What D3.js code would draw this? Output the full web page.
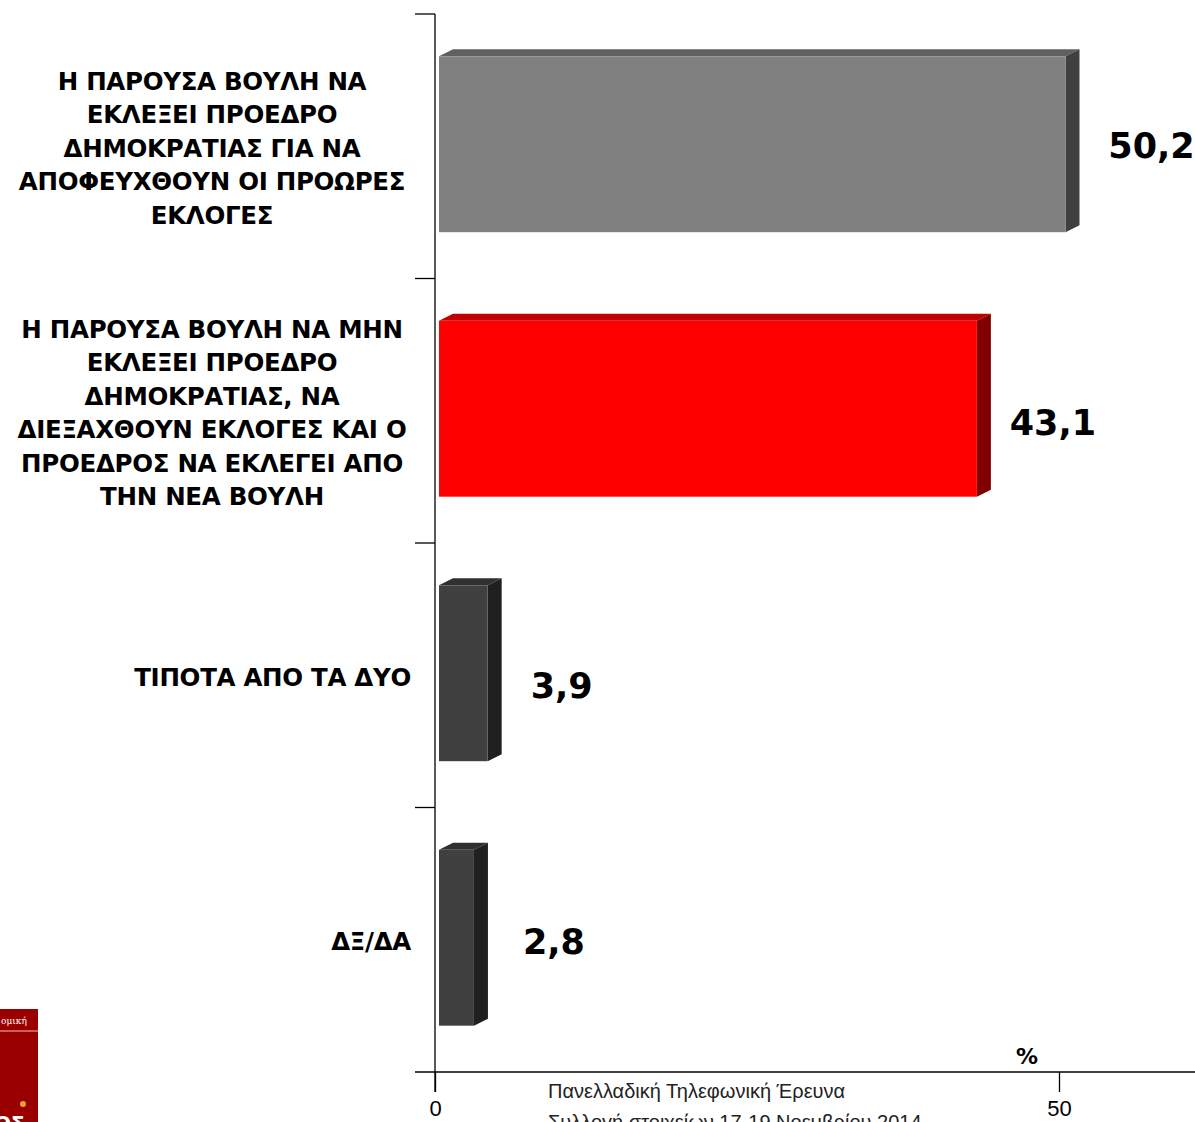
<!DOCTYPE html>
<html>
<head>
<meta charset="utf-8">
<script src="https://d3js.org/d3.v7.min.js"></script>
<style>
  html, body { margin: 0; padding: 0; background: #fff; }
  svg { display: block; }
</style>
</head>
<body>
<script>
// ---- data ----
const categories = [
  ["Η ΠΑΡΟΥΣΑ ΒΟΥΛΗ ΝΑ", "ΕΚΛΕΞΕΙ ΠΡΟΕΔΡΟ", "ΔΗΜΟΚΡΑΤΙΑΣ ΓΙΑ ΝΑ", "ΑΠΟΦΕΥΧΘΟΥΝ ΟΙ ΠΡΟΩΡΕΣ", "ΕΚΛΟΓΕΣ"],
  ["Η ΠΑΡΟΥΣΑ ΒΟΥΛΗ ΝΑ ΜΗΝ", "ΕΚΛΕΞΕΙ ΠΡΟΕΔΡΟ", "ΔΗΜΟΚΡΑΤΙΑΣ, ΝΑ", "ΔΙΕΞΑΧΘΟΥΝ ΕΚΛΟΓΕΣ ΚΑΙ Ο", "ΠΡΟΕΔΡΟΣ ΝΑ ΕΚΛΕΓΕΙ ΑΠΟ", "ΤΗΝ ΝΕΑ ΒΟΥΛΗ"],
  ["ΤΙΠΟΤΑ ΑΠΟ ΤΑ ΔΥΟ"],
  ["ΔΞ/ΔΑ"]
];
const values = [50.2, 43.1, 3.9, 2.8];
const valueLabels = ["50,2", "43,1", "3,9", "2,8"];
const frontColors = ["#808080", "#FF0000", "#404040", "#404040"];
const topColors   = ["#606060", "#C00000", "#303030", "#303030"];
const sideColors  = ["#404040", "#800000", "#202020", "#202020"];
const xTicks = [0, 50];
const xTickLabels = ["0", "50"];
const unitLabel = "%";
const footLines = ["Πανελλαδική  Τηλεφωνική Έρευνα", "Συλλογή στοιχείων 17-19 Νοεμβρίου 2014"];

// ---- layout ----
const W = 1195, H = 1122;
const svg = d3.select("body").append("svg").attr("width", W).attr("height", H);

const x = d3.scaleLinear().domain([0, 50]).range([435, 1059]);
const y = d3.scaleBand().domain(d3.range(categories.length)).range([14, 1072])
  .paddingInner(0.335).paddingOuter(0.1675);
const DX = 14, DY = -7, OFF = 4, SHIFT = -2;

// bars (pseudo 3D)
const g = svg.append("g");
values.forEach((v, i) => {
  const x0 = x(0) + OFF, x1 = x(v) + OFF;
  const y0 = y(i) + SHIFT, y1 = y0 + y.bandwidth();
  g.append("path")
    .attr("d", `M${x0},${y0}L${x0 + DX},${y0 + DY}L${x1 + DX},${y0 + DY}L${x1},${y0}Z`)
    .attr("fill", topColors[i]);
  g.append("path")
    .attr("d", `M${x1},${y0}L${x1 + DX},${y0 + DY}L${x1 + DX},${y1 + DY}L${x1},${y1}Z`)
    .attr("fill", sideColors[i]);
  g.append("rect")
    .attr("x", x0).attr("y", y0)
    .attr("width", x1 - x0).attr("height", y1 - y0)
    .attr("fill", frontColors[i]);
});

// value labels
const labelDx = [86, 76, 74, 80];
const labelDy = [0, 12, 11, 2];
values.forEach((v, i) => {
  svg.append("text")
    .attr("x", x(v) + OFF + labelDx[i])
    .attr("y", y(i) + y.bandwidth() / 2 + labelDy[i])
    .attr("text-anchor", "middle")
    .attr("dominant-baseline", "central")
    .attr("font-family", "'DejaVu Sans', Verdana, sans-serif")
    .attr("font-weight", "bold")
    .attr("font-size", 35)
    .attr("fill", "#000")
    .text(valueLabels[i]);
});

// category labels
const lineH = 33.5;
categories.forEach((lines, i) => {
  const cy = y(i) + y.bandwidth() / 2 + 2;
  const t = svg.append("text")
    .attr("font-family", "'DejaVu Sans', Verdana, sans-serif")
    .attr("font-weight", "bold")
    .attr("font-size", 24.5)
    .attr("letter-spacing", -0.3)
    .attr("fill", "#000");
  lines.forEach((ln, j) => {
    const single = lines.length === 1;
    t.append("tspan")
      .attr("x", single ? 411 : 212)
      .attr("text-anchor", single ? "end" : "middle")
      .attr("y", cy + (j - (lines.length - 1) / 2) * lineH)
      .attr("dominant-baseline", "central")
      .text(ln);
  });
});

// y axis (category axis)
const yAxisG = svg.append("g").attr("stroke", "#000").attr("stroke-width", 1.3);
yAxisG.append("line").attr("x1", 435).attr("x2", 435).attr("y1", 14).attr("y2", 1092);
d3.range(categories.length).forEach(i => {
  const yv = 14 + i * (1072 - 14) / categories.length;
  yAxisG.append("line").attr("x1", 415).attr("x2", 435).attr("y1", yv).attr("y2", yv);
});

// x axis
const xAxis = d3.axisBottom(x).tickValues(xTicks).tickFormat((d, i) => xTickLabels[i]).tickSize(20).tickPadding(8);
const xg = svg.append("g").attr("transform", "translate(0,1072)").call(xAxis);
xg.select(".domain").remove();
xg.selectAll(".tick line").attr("stroke", "#000").attr("stroke-width", 1.3);
xg.selectAll(".tick text").attr("font-family", "'Liberation Sans Narrow', 'Liberation Sans', sans-serif")
  .attr("font-size", 22).attr("fill", "#000");
svg.append("line").attr("x1", 415).attr("x2", 1195).attr("y1", 1072).attr("y2", 1072)
  .attr("stroke", "#000").attr("stroke-width", 1.3);

// unit label
svg.append("text").attr("x", 1027).attr("y", 1064).attr("text-anchor", "middle")
  .attr("font-family", "'DejaVu Sans', Verdana, sans-serif").attr("font-weight", "bold")
  .attr("font-size", 22).text(unitLabel);

// footnote
footLines.forEach((s, i) => {
  svg.append("text").attr("x", 548).attr("y", 1098 + i * 31)
    .attr("font-family", "'Liberation Sans Narrow', 'Liberation Sans', sans-serif")
    .attr("font-size", 20).attr("fill", "#222").text(s);
});

// logo fragment
const logo = svg.append("g");
logo.append("rect").attr("x", 0).attr("y", 1009).attr("width", 38).attr("height", 113).attr("fill", "#9A0000");
logo.append("line").attr("x1", 0).attr("x2", 38).attr("y1", 1031).attr("y2", 1031).attr("stroke", "#D88080").attr("stroke-width", 1.5);
logo.append("text").attr("x", 1).attr("y", 1024).attr("font-family", "'DejaVu Serif', serif").attr("font-size", 9).attr("fill", "#fff").text("ομική");
logo.append("circle").attr("cx", 23).attr("cy", 1104).attr("r", 3).attr("fill", "#E8A030");
logo.append("text").attr("x", -6).attr("y", 1130).attr("font-family", "'DejaVu Sans', sans-serif").attr("font-weight", "bold").attr("font-size", 20).attr("fill", "#fff").text("ΟΣ");
</script>
</body>
</html>
